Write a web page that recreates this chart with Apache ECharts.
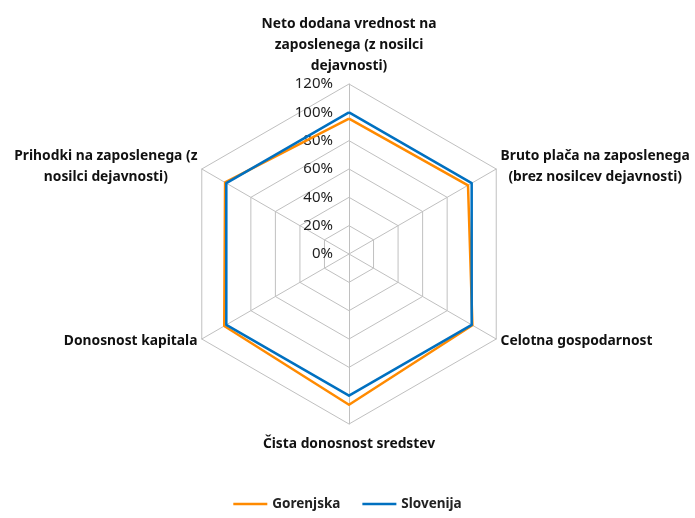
<!DOCTYPE html>
<html>
<head>
<meta charset="utf-8">
<script src="https://cdn.jsdelivr.net/npm/echarts@6/dist/echarts.min.js"></script>
<style>html,body{margin:0;padding:0;background:#fff;}#c{width:695px;height:518px;}</style>
</head>
<body>
<div id="c"></div>
<script>
// Indicators listed in ECharts (counter-clockwise) order, starting at the top
var categories = [
  'Neto dodana vrednost na\nzaposlenega (z nosilci\ndejavnosti)',
  'Prihodki na zaposlenega (z\nnosilci dejavnosti)',
  'Donosnost kapitala',
  'Čista donosnost sredstev',
  'Celotna gospodarnost',
  'Bruto plača na zaposlenega\n(brez nosilcev dejavnosti)'
];
var gorenjska = [95.6, 101, 101.7, 106.4, 100.6, 97];
var slovenija = [100, 100, 100, 100, 100, 100];
var seriesNames = ['Gorenjska', 'Slovenija'];
var axisMax = 120;

var FONT = 'Noto Sans';
var chart = echarts.init(document.getElementById('c'), null, {renderer: 'canvas'});
var indicator = categories.map(function (n, i) {
  var o = {name: n, max: axisMax, min: 0};
  if (i === 0) o.axisLabel = {show: true};
  if (i === 3) o.nameGap = 10;
  return o;
});
chart.setOption({
  animation: false,
  backgroundColor: '#fff',
  color: ['#FF8A00', '#0070C0'],
  legend: {
    bottom: 2,
    left: 'center',
    itemWidth: 34,
    itemHeight: 2.5,
    itemGap: 22,
    icon: 'rect',
    textStyle: {fontFamily: FONT, fontSize: 13.5, fontWeight: 'bold', color: '#222'},
    data: seriesNames
  },
  radar: {
    center: [349, 254],
    radius: 170,
    splitNumber: 6,
    startAngle: 90,
    shape: 'polygon',
    indicator: indicator,
    axisName: {
      color: '#111',
      fontFamily: FONT,
      fontSize: 13.8,
      fontWeight: 'bold',
      lineHeight: 21,
      formatter: function (v) {
        return v.split('\n').map(function (l) { return '{c|' + l + '}'; }).join('\n');
      },
      rich: {
        c: {align: 'center', fontFamily: FONT, fontSize: 13.8, fontWeight: 'bold', color: '#111', lineHeight: 21}
      }
    },
    nameGap: 5,
    axisLine: {lineStyle: {color: '#C0C0C0', width: 1}},
    splitLine: {lineStyle: {color: '#C0C0C0', width: 1}},
    splitArea: {show: false},
    axisTick: {show: false},
    axisLabel: {
      show: false,
      formatter: '{value}%',
      fontFamily: FONT,
      fontSize: 15,
      color: '#222',
      margin: 16
    }
  },
  series: [{
    type: 'radar',
    symbol: 'none',
    data: [
      {name: seriesNames[0], value: gorenjska, lineStyle: {width: 2.5, color: '#FF8A00'}},
      {name: seriesNames[1], value: slovenija, lineStyle: {width: 2.5, color: '#0070C0'}}
    ]
  }]
});
</script>
</body>
</html>
